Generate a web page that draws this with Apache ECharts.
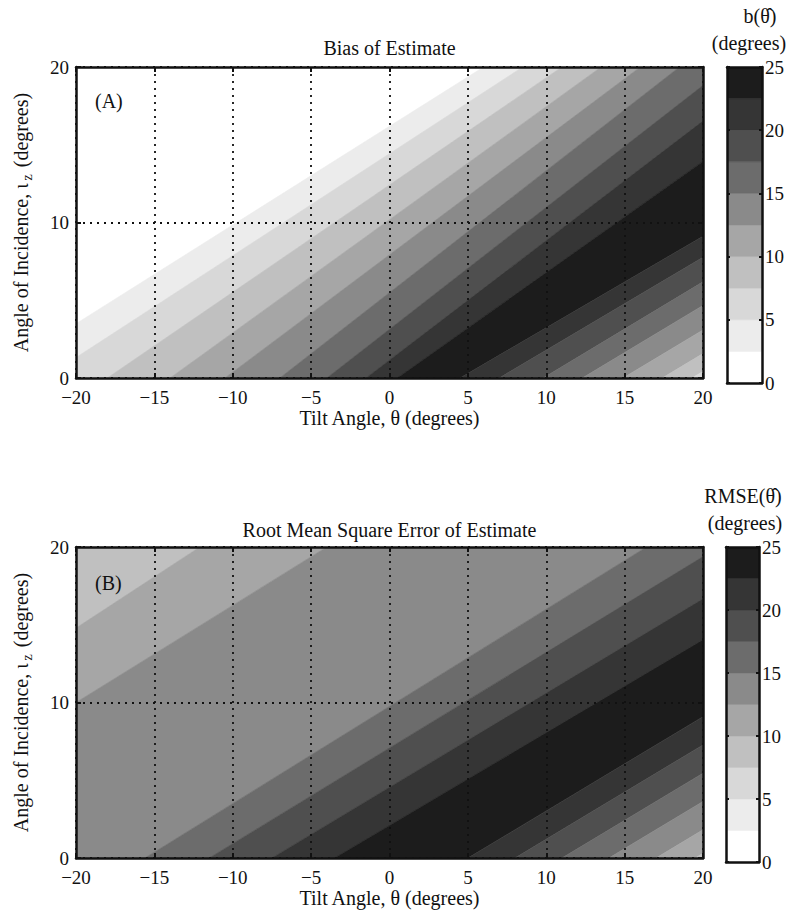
<!DOCTYPE html>
<html><head><meta charset="utf-8">
<script src="https://cdn.jsdelivr.net/npm/echarts@6/dist/echarts.min.js"></script>
<style>html,body{margin:0;padding:0;background:#fff}#c{width:790px;height:919px}</style>
</head><body><div id="c"></div>
<script>
// ---- axes / ticks ----
const thetaTicks = [-20, -15, -10, -5, 0, 5, 10, 15, 20];
const iotaTicks = [0, 10, 20];
const colorbarTicks = [0, 5, 10, 15, 20, 25];
const contourLevels = [0, 2.5, 5, 7.5, 10, 12.5, 15, 17.5, 20, 22.5, 25];

// ---- Plot A: Bias of Estimate ----
// each contour boundary line: tilt angle where it meets iota=0 (bottom) and iota=20 (top)
const biasLineAtBottom = [-25.5, -22.0, -18.0, -14.0, -10.5, -7.0, -4.0, -1.5, 0.5, 4.5, 7.0, 9.8, 12.3, 14.9, 17.4, 19.3];
const biasLineAtTop    = [6.0, 8.5, 11.0, 13.5, 16.0, 18.5, 21.5, 24.5, 28.5, 38.5, 40.5, 42.8, 45.3, 47.9, 50.4, 52.3];
// contour band (index into contourLevels) of each region between the lines, left to right
const biasBandLevel = [0, 1, 2, 3, 4, 5, 6, 7, 8, 9, 8, 7, 6, 5, 4, 3, 2];

// ---- Plot B: Root Mean Square Error ----
const rmseLineAtBottom = [-42.4, -36.0, -15.6, -11.5, -7.5, -3.5, 5.0, 8.0, 11.0, 14.0, 17.0, 19.5];
const rmseLineAtTop    = [-12.1, -4.0, 16.4, 21.0, 25.5, 30.0, 38.0, 41.0, 44.0, 47.0, 50.0, 52.5];
const rmseBandLevel = [3, 4, 5, 6, 7, 8, 9, 8, 7, 6, 5, 4, 3];

// ---- styles ----
const palette = ['#ffffff', '#ececec', '#d8d8d8', '#c0c0c0', '#a6a6a6', '#8a8a8a', '#6c6c6c', '#4f4f4f', '#353535', '#1c1c1c'];
const FONT = '"Liberation Serif", "DejaVu Serif", serif';
const INK = '#111';
const FS = 20;
const TFS = 19;

const chart = echarts.init(document.getElementById('c'), null, {renderer: 'svg', width: 790, height: 919});

const iMin = iotaTicks[0], iMax = iotaTicks[iotaTicks.length - 1];
const tMin = thetaTicks[0], tMax = thetaTicks[thetaTicks.length - 1];
const cMin = colorbarTicks[0], cMax = colorbarTicks[colorbarTicks.length - 1];

function bandRenderer(bottoms, tops, levels) {
  return function (params, api) {
    const i = api.value(0);
    const far = 400;
    const n = bottoms.length;
    const lb = i === 0 ? -far : bottoms[i - 1];
    const lt = i === 0 ? -far : tops[i - 1];
    const rb = i === n ? far : bottoms[i];
    const rt = i === n ? far : tops[i];
    const pts = [[lb, iMin], [lt, iMax], [rt, iMax], [rb, iMin]].map(p => api.coord(p));
    const col = palette[levels[i]];
    return {type: 'polygon', shape: {points: pts}, style: {fill: col, stroke: col, lineWidth: 0.6}};
  };
}
function colorbarRenderer(params, api) {
  const i = api.value(0);
  const p0 = api.coord([0, contourLevels[i]]);
  const p1 = api.coord([1, contourLevels[i + 1]]);
  return {type: 'rect', shape: {x: p0[0], y: p1[1], width: p1[0] - p0[0], height: p0[1] - p1[1]},
    style: {fill: palette[i], stroke: palette[i], lineWidth: 0.5}};
}

const fmt = v => (v < 0 ? '\u2212' + Math.abs(v) : String(v));
const lineStyleBorder = {color: INK, width: 2.5};
const gridDots = {show: true, lineStyle: {color: '#111', type: [2, 5], width: 1.8}};
const labelStyle = {fontFamily: FONT, fontSize: TFS, color: INK};

function plotAxes(gi) {
  const xs = [
    {gridIndex: gi, type: 'value', min: tMin, max: tMax, interval: thetaTicks[1] - thetaTicks[0], position: 'bottom', z: 5,
      axisLine: {show: true, onZero: false, lineStyle: lineStyleBorder},
      axisTick: {show: true, inside: true, length: 5, lineStyle: {color: INK, width: 2}},
      axisLabel: Object.assign({formatter: fmt, margin: 10}, labelStyle),
      splitLine: gridDots,
      name: 'Tilt Angle, \u03b8 (degrees)', nameLocation: 'middle', nameGap: 30,
      nameTextStyle: {fontFamily: FONT, fontSize: FS, color: INK}},
    {gridIndex: gi, type: 'value', min: tMin, max: tMax, interval: thetaTicks[1] - thetaTicks[0], position: 'top', z: 5,
      axisLine: {show: true, onZero: false, lineStyle: lineStyleBorder},
      axisTick: {show: true, inside: true, length: 5, lineStyle: {color: INK, width: 2}},
      axisLabel: {show: false}, splitLine: {show: false}}
  ];
  const ys = [
    {gridIndex: gi, type: 'value', min: iMin, max: iMax, interval: iotaTicks[1] - iotaTicks[0], position: 'left', z: 5,
      axisLine: {show: true, onZero: false, lineStyle: lineStyleBorder},
      axisTick: {show: true, inside: true, length: 5, lineStyle: {color: INK, width: 2}},
      axisLabel: Object.assign({margin: 7}, labelStyle),
      splitLine: gridDots,
      name: '{a|Angle of Incidence, \u03b9}{s|z}{a| (degrees)}', nameLocation: 'middle', nameGap: 42,
      nameTextStyle: {fontFamily: FONT, fontSize: FS, color: INK,
        rich: {a: {fontFamily: FONT, fontSize: FS, color: INK}, s: {fontFamily: FONT, fontSize: 14, color: INK, padding: [13, 2, 0, 3]}}}},
    {gridIndex: gi, type: 'value', min: iMin, max: iMax, interval: iotaTicks[1] - iotaTicks[0], position: 'right', z: 5,
      axisLine: {show: true, onZero: false, lineStyle: lineStyleBorder},
      axisTick: {show: true, inside: true, length: 5, lineStyle: {color: INK, width: 2}},
      axisLabel: {show: false}, splitLine: {show: false}}
  ];
  return {xs, ys};
}
function cbarAxes(gi) {
  const xs = [
    {gridIndex: gi, type: 'value', min: 0, max: 1, position: 'bottom', z: 5, axisLine: {show: true, onZero: false, lineStyle: lineStyleBorder},
      axisTick: {show: false}, axisLabel: {show: false}, splitLine: {show: false}},
    {gridIndex: gi, type: 'value', min: 0, max: 1, position: 'top', z: 5, axisLine: {show: true, onZero: false, lineStyle: lineStyleBorder},
      axisTick: {show: false}, axisLabel: {show: false}, splitLine: {show: false}}
  ];
  const ys = [
    {gridIndex: gi, type: 'value', min: cMin, max: cMax, interval: colorbarTicks[1] - colorbarTicks[0], position: 'left', z: 5,
      axisLine: {show: true, onZero: false, lineStyle: lineStyleBorder},
      axisTick: {show: true, inside: true, length: 3, lineStyle: {color: INK, width: 2}},
      axisLabel: {show: false}, splitLine: {show: false}},
    {gridIndex: gi, type: 'value', min: cMin, max: cMax, interval: colorbarTicks[1] - colorbarTicks[0], position: 'right', z: 5,
      axisLine: {show: true, onZero: false, lineStyle: lineStyleBorder},
      axisTick: {show: true, inside: true, length: 3, lineStyle: {color: INK, width: 2}},
      axisLabel: Object.assign({margin: 3}, labelStyle), splitLine: {show: false}}
  ];
  return {xs, ys};
}

const pA = plotAxes(0), cA = cbarAxes(1), pB = plotAxes(2), cB = cbarAxes(3);
const xAxis = [].concat(pA.xs, cA.xs, pB.xs, cB.xs);
const yAxis = [].concat(pA.ys, cA.ys, pB.ys, cB.ys);

const cbarData = palette.map((c, i) => [i, contourLevels[i]]);

const txt = (s, x, y, align) => ({type: 'text', x, y, z: 10,
  style: {text: s, fontFamily: FONT, fontSize: FS, fill: INK, align: align || 'center', verticalAlign: 'middle'}});

const option = {
  backgroundColor: '#fff',
  animation: false,
  grid: [
    {left: 76, top: 67, width: 627, height: 311},
    {left: 727, top: 67, width: 35, height: 316},
    {left: 76, top: 547, width: 627, height: 311},
    {left: 726, top: 547, width: 33, height: 315}
  ],
  xAxis, yAxis,
  series: [
    {type: 'custom', xAxisIndex: 0, yAxisIndex: 0, clip: true, renderItem: bandRenderer(biasLineAtBottom, biasLineAtTop, biasBandLevel),
      data: biasBandLevel.map((lv, i) => [i, lv]), silent: true},
    {type: 'custom', xAxisIndex: 2, yAxisIndex: 2, clip: true, renderItem: colorbarRenderer, data: cbarData, silent: true},
    {type: 'custom', xAxisIndex: 4, yAxisIndex: 4, clip: true, renderItem: bandRenderer(rmseLineAtBottom, rmseLineAtTop, rmseBandLevel),
      data: rmseBandLevel.map((lv, i) => [i, lv]), silent: true},
    {type: 'custom', xAxisIndex: 6, yAxisIndex: 6, clip: true, renderItem: colorbarRenderer, data: cbarData, silent: true}
  ],
  graphic: [
    txt('Bias of Estimate', 389.5, 48),
    txt('Root Mean Square Error of Estimate', 389.5, 530),
    txt('(A)', 95, 101, 'left'),
    txt('(B)', 95, 583, 'left'),
    txt('b(\u03b8\u0302)', 760, 16),
    txt('(degrees)', 749, 43),
    txt('RMSE(\u03b8\u0302)', 743, 496),
    txt('(degrees)', 745, 523)
  ]
};
chart.setOption(option);
</script>
</body></html>
